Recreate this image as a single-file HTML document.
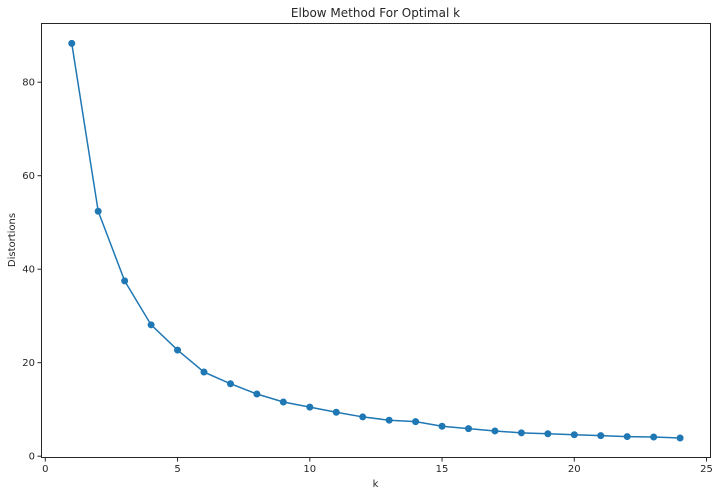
<!DOCTYPE html>
<html><head><meta charset="utf-8"><style>
body{margin:0;background:#fff;font-family:"Liberation Sans","DejaVu Sans",sans-serif;}
svg text{font-family:"DejaVu Sans","Liberation Sans",sans-serif;fill:#262626;}
</style></head><body>
<svg id="chart" width="720" height="496" viewBox="0 0 720 496" xmlns="http://www.w3.org/2000/svg">
<text x="375.5" y="17" font-size="12" text-anchor="middle">Elbow Method For Optimal k</text>
<rect x="41.5" y="23.5" width="669" height="434" fill="none" stroke="#262626" stroke-width="1"/>
<g id="xticks"></g>
<g id="yticks"></g>
<text x="375.5" y="487" font-size="10" text-anchor="middle">k</text>
<text x="15" y="240" font-size="10" text-anchor="middle" transform="rotate(-90 15 240)">Distortions</text>
<g id="series"></g>
</svg>
<script>
const ks=[1,2,3,4,5,6,7,8,9,10,11,12,13,14,15,16,17,18,19,20,21,22,23,24];
const distortions=[88.3,52.4,37.5,28.1,22.7,18.0,15.5,13.3,11.6,10.5,9.4,8.4,7.7,7.4,6.4,5.9,5.4,5.0,4.8,4.6,4.4,4.2,4.1,3.9];
const xTicks=[0,5,10,15,20,25];
const yTicks=[0,20,40,60,80];
const NS="http://www.w3.org/2000/svg";
function xs(v){return 45.3+v*26.45;}
function ys(v){return 456.2-v*4.675;}
function mk(t,a,p){const e=document.createElementNS(NS,t);for(const k in a)e.setAttribute(k,a[k]);p.appendChild(e);return e;}
const gx=document.getElementById('xticks'),gy=document.getElementById('yticks'),gs=document.getElementById('series');
xTicks.forEach(v=>{const l=mk('line',{x1:xs(v),x2:xs(v),y1:458,y2:461.5,stroke:'#262626'},gx);


const t=mk('text',{x:xs(v),y:472,'font-size':10,'text-anchor':'middle'},gx);t.textContent=v;

});
yTicks.forEach(v=>{const l=mk('line',{x1:37.5,x2:41,y1:ys(v),y2:ys(v),stroke:'#262626'},gy);


const t=mk('text',{x:35,y:ys(v)+3.5,'font-size':10,'text-anchor':'end'},gy);t.textContent=v;

});
const pts=ks.map((k,i)=>xs(k)+','+ys(distortions[i])).join(' ');
const pl=mk('polyline',{points:pts,fill:'none',stroke:'#1f77b4','stroke-width':1.5},gs);


ks.forEach((k,i)=>{const c=mk('circle',{cx:xs(k),cy:ys(distortions[i]),r:3.5,fill:'#1f77b4'},gs);

});
</script>
</body></html>
